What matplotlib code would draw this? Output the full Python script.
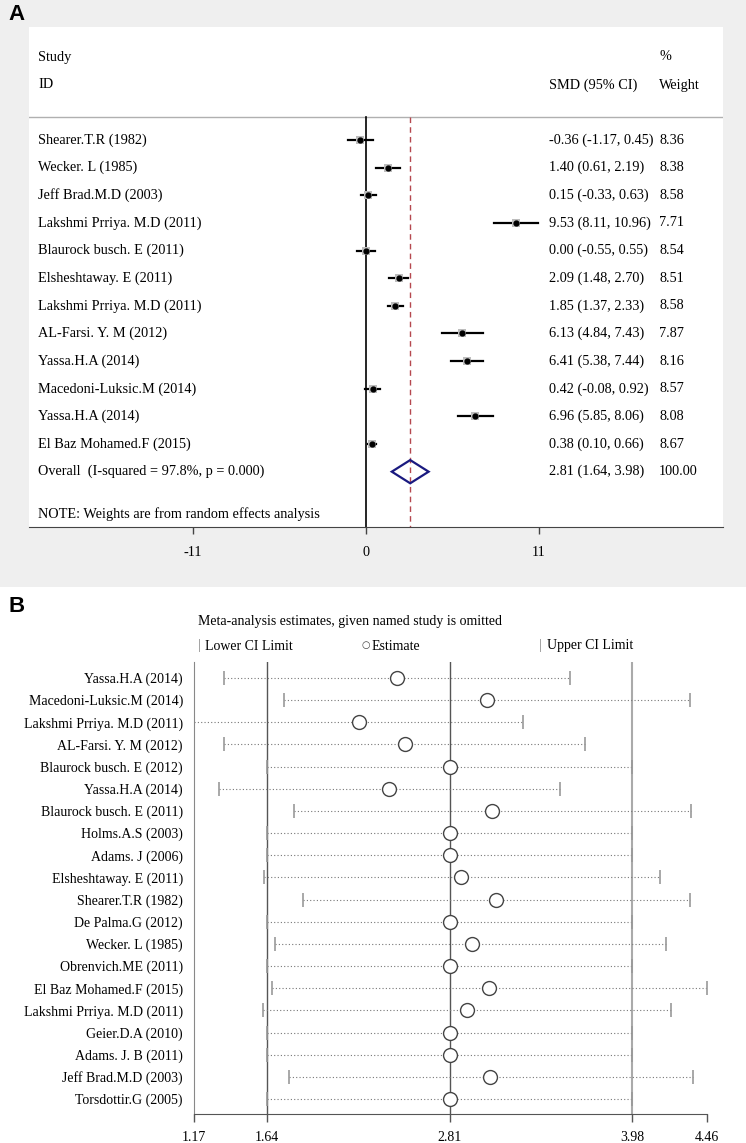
import matplotlib
matplotlib.use("Agg")
import matplotlib.pyplot as plt
from matplotlib.patches import Rectangle, Polygon
from matplotlib.transforms import blended_transform_factory

plt.rcParams["font.family"] = ["Liberation Serif", "DejaVu Serif"]

W, H = 746, 1143

# ---- Panel A: forest plot ----
studies_a = ["Shearer.T.R (1982)", "Wecker. L (1985)", "Jeff Brad.M.D (2003)",
             "Lakshmi Prriya. M.D (2011)", "Blaurock busch. E (2011)",
             "Elsheshtaway. E (2011)", "Lakshmi Prriya. M.D (2011)",
             "AL-Farsi. Y. M (2012)", "Yassa.H.A (2014)",
             "Macedoni-Luksic.M (2014)", "Yassa.H.A (2014)",
             "El Baz Mohamed.F (2015)"]
smd = [-0.36, 1.40, 0.15, 9.53, 0.00, 2.09, 1.85, 6.13, 6.41, 0.42, 6.96, 0.38]
ci_lo = [-1.17, 0.61, -0.33, 8.11, -0.55, 1.48, 1.37, 4.84, 5.38, -0.08, 5.85, 0.10]
ci_hi = [0.45, 2.19, 0.63, 10.96, 0.55, 2.70, 2.33, 7.43, 7.44, 0.92, 8.06, 0.66]
weights = [8.36, 8.38, 8.58, 7.71, 8.54, 8.51, 8.58, 7.87, 8.16, 8.57, 8.08, 8.67]
overall = (2.81, 1.64, 3.98)
overall_label = "Overall  (I-squared = 97.8%, p = 0.000)"
ticks_a = [-11, 0, 11]

# ---- Panel B: leave-one-out sensitivity ----
studies_b = ["Yassa.H.A (2014)", "Macedoni-Luksic.M (2014)",
             "Lakshmi Prriya. M.D (2011)", "AL-Farsi. Y. M (2012)",
             "Blaurock busch. E (2012)", "Yassa.H.A (2014)",
             "Blaurock busch. E (2011)", "Holms.A.S (2003)", "Adams. J (2006)",
             "Elsheshtaway. E (2011)", "Shearer.T.R (1982)", "De Palma.G (2012)",
             "Wecker. L (1985)", "Obrenvich.ME (2011)", "El Baz Mohamed.F (2015)",
             "Lakshmi Prriya. M.D (2011)", "Geier.D.A (2010)", "Adams. J. B (2011)",
             "Jeff Brad.M.D (2003)", "Torsdottir.G (2005)"]
est_b = [2.47, 3.05, 2.23, 2.52, 2.81, 2.42, 3.08, 2.81, 2.81, 2.88,
         3.11, 2.81, 2.95, 2.81, 3.06, 2.92, 2.81, 2.81, 3.07, 2.81]
lo_b = [1.36, 1.75, 1.17, 1.36, 1.64, 1.33, 1.81, 1.64, 1.64, 1.62,
        1.87, 1.64, 1.69, 1.64, 1.67, 1.61, 1.64, 1.64, 1.78, 1.64]
hi_b = [3.58, 4.35, 3.28, 3.68, 3.98, 3.52, 4.36, 3.98, 3.98, 4.16,
        4.35, 3.98, 4.20, 3.98, 4.46, 4.23, 3.98, 3.98, 4.37, 3.98]
ticks_b = [1.17, 1.64, 2.81, 3.98, 4.46]


def px_rect(x0, y0, x1, y1):
    return [x0 / W, 1 - y1 / H, (x1 - x0) / W, (y1 - y0) / H]


fig = plt.figure(figsize=(W / 100, H / 100), dpi=100)
fig.patch.set_facecolor("white")
fig.patches.append(Rectangle((0, 1 - 587 / H), 1, 587 / H, transform=fig.transFigure,
                             facecolor="#efefef", edgecolor="none", zorder=-10))

# ================= Panel A =================
axA = fig.add_axes(px_rect(29, 27, 723, 527))
axA.set_facecolor("white")
row_h = 27.64
top_i = (27 - 140) / row_h
bot_i = (527 - 140) / row_h
axA.set_ylim(bot_i, top_i)
axA.set_xlim((29 - 366) / 15.73, (723 - 366) / 15.73)
for s in ["top", "left", "right"]:
    axA.spines[s].set_visible(False)
axA.spines["bottom"].set_color("#444444")
axA.set_yticks([])
axA.set_xticks(ticks_a)
axA.set_xticklabels([str(t) for t in ticks_a])
axA.tick_params(axis="x", direction="out", length=5, width=1, color="#444444",
                labelsize=10.3, pad=9)

line_i = (117 - 140) / row_h
axA.axhline(line_i, color="#b0b0b0", lw=1)
axA.plot([0, 0], [line_i, bot_i], color="black", lw=1.2, zorder=2)
axA.plot([overall[0], overall[0]], [line_i, bot_i], color="#b5484f", lw=1,
         ls=(0, (4, 3)), zorder=2)

rows = list(range(len(studies_a)))
for i in rows:
    axA.plot([ci_lo[i], ci_hi[i]], [i, i], color="black", lw=1.6, zorder=3)
    axA.plot(smd[i], i, "s", color="#bdbdbd", ms=weights[i] * 0.68, mew=0, zorder=3.5)
    axA.plot(smd[i], i, "o", color="black", ms=3.5, zorder=4)

oi = len(studies_a)
e, l, h = overall
axA.add_patch(Polygon([[l, oi], [e, oi - 0.42], [h, oi], [e, oi + 0.42]],
                      closed=True, fill=False, edgecolor="#1a1a80", lw=1.6, zorder=4))

trA = blended_transform_factory(fig.transFigure, axA.transData)
fs = 10.3
axA.text(38 / W, (57 - 140) / row_h, "Study", transform=trA, fontsize=fs, va="center")
axA.text(38 / W, (85 - 140) / row_h, "ID", transform=trA, fontsize=fs, va="center")
axA.text(549 / W, (85 - 140) / row_h, "SMD (95% CI)", transform=trA, fontsize=fs, va="center")
axA.text(659 / W, (57 - 140) / row_h, "%", transform=trA, fontsize=fs, va="center")
axA.text(659 / W, (85 - 140) / row_h, "Weight", transform=trA, fontsize=fs, va="center")
for i in rows:
    axA.text(38 / W, i, studies_a[i], transform=trA, fontsize=fs, va="center")
    axA.text(549 / W, i, f"{smd[i]:.2f} ({ci_lo[i]:.2f}, {ci_hi[i]:.2f})",
             transform=trA, fontsize=fs, va="center")
    axA.text(659 / W, i, f"{weights[i]:.2f}", transform=trA, fontsize=fs, va="center")
axA.text(38 / W, oi, overall_label, transform=trA, fontsize=fs, va="center")
axA.text(549 / W, oi, f"{e:.2f} ({l:.2f}, {h:.2f})", transform=trA, fontsize=fs, va="center")
axA.text(659 / W, oi, "100.00", transform=trA, fontsize=fs, va="center")
axA.text(38 / W, (514 - 140) / row_h, "NOTE: Weights are from random effects analysis",
         transform=trA, fontsize=fs, va="center")

fig.text(8 / W, 1 - 14 / H, "A", family="Liberation Sans", fontweight="bold",
         fontsize=16, va="center", ha="left")

# ================= Panel B =================
axB = fig.add_axes(px_rect(194, 662, 707, 1114))
rb = 22.16
axB.set_ylim((1114 - 678) / rb, (662 - 678) / rb)
axB.set_xlim(ticks_b[0], ticks_b[-1])
for s in ["top", "right"]:
    axB.spines[s].set_visible(False)
axB.spines["left"].set_color("#888888")
axB.spines["bottom"].set_color("#555555")
axB.set_xticks(ticks_b)
axB.set_xticklabels([f"{t:.2f}" for t in ticks_b])
axB.tick_params(axis="x", direction="out", length=6, width=1, color="#555555",
                labelsize=10, pad=6)
axB.set_yticks(range(len(studies_b)))
axB.set_yticklabels(studies_b)
axB.tick_params(axis="y", length=0, labelsize=10, pad=8)

axB.axvline(overall[1], color="#555555", lw=1, zorder=1)
axB.axvline(overall[0], color="#555555", lw=1, zorder=1)
axB.axvline(overall[2], color="#aaaaaa", lw=1.5, zorder=1)

for i in range(len(studies_b)):
    axB.plot([lo_b[i], hi_b[i]], [i, i], color="#777777", lw=0.8, ls=(0, (1, 2)), zorder=2)
    axB.plot([lo_b[i], hi_b[i]], [i, i], "|", color="#999999", ms=10, mew=1.2, zorder=2)
    axB.plot(est_b[i], i, "o", mfc="white", mec="#444444", ms=10, mew=1, zorder=3)

fs_b = 10
fig.text(198 / W, 1 - 622 / H, "Meta-analysis estimates, given named study is omitted",
         fontsize=fs_b, va="center")
fig.text(198 / W, 1 - 646 / H, "|", fontsize=fs_b, va="center", color="#888888")
fig.text(205 / W, 1 - 646 / H, "Lower CI Limit", fontsize=fs_b, va="center")
fig.text(362 / W, 1 - 645 / H, "\u25cb", fontsize=7, va="center", color="#444444",
         family=["DejaVu Sans"])
fig.text(372 / W, 1 - 646 / H, "Estimate", fontsize=fs_b, va="center")
fig.text(539 / W, 1 - 646 / H, "|", fontsize=fs_b, va="center", color="#888888")
fig.text(547 / W, 1 - 646 / H, "Upper CI Limit", fontsize=fs_b, va="center")

fig.text(8 / W, 1 - 606 / H, "B", family="Liberation Sans", fontweight="bold",
         fontsize=16, va="center", ha="left")

fig.savefig("out.png", dpi=100)
